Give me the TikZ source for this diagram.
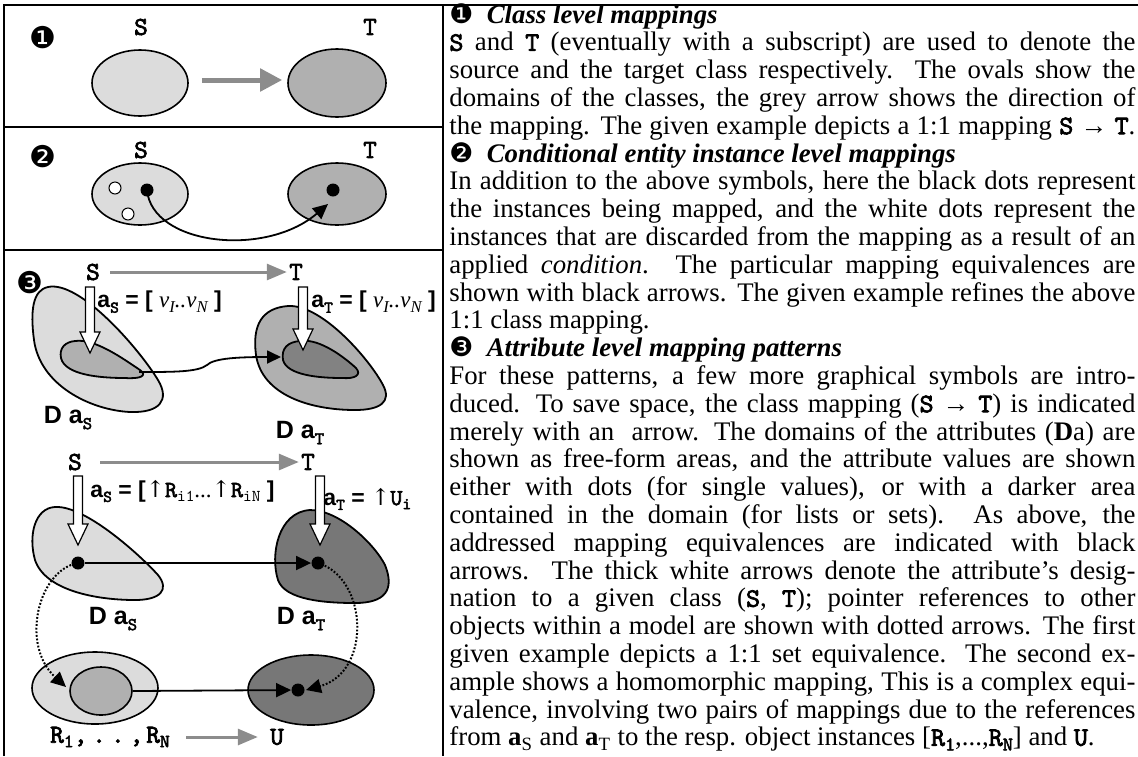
\documentclass[tikz,border=0pt]{standalone}
\usepackage{fontspec}
\usepackage{graphicx}
\setmainfont{Liberation Serif}
\newfontfamily\monob{lmmono10-regular.otf}[FakeBold=2.6]
\newfontfamily\monor{lmmono10-regular.otf}
\newfontfamily\sansf{Liberation Sans}
\newfontfamily\dvs{DejaVu Sans}
\newfontfamily\dvserif{DejaVu Serif}
\usetikzlibrary{arrows.meta,shapes.geometric}
\definecolor{lgray}{HTML}{DCDCDC}
\definecolor{mgray}{HTML}{B0B0B0}
\definecolor{dgray}{HTML}{828282}
\definecolor{xgray}{HTML}{777777}
\definecolor{agray}{HTML}{8C8C8C}
\newcommand\mb[1]{{\mdseries\monob #1}}
\newcommand\lowr[1]{\raisebox{-0.4ex}{\scalebox{0.72}{#1}}}
\newcommand\upar{{\dvserif\mdseries ↑}}
\newcommand\JL[1]{\makebox[343pt][s]{#1}}
\newcommand\TL[3]{\node[tline] (#1) at (449,{23+27.8*(#2-1)}) {#3};}
\newcommand\whitearrow[3]{\filldraw[fill=white,draw=black,line width=0.6pt,line join=miter]
  (#1-4.5,#2) -- (#1-4.5,#3-21) -- (#1-10,#3-21) -- (#1,#3) -- (#1+10,#3-21) -- (#1+4.5,#3-21) -- (#1+4.5,#2) -- cycle;}
\begin{document}
\begin{tikzpicture}[x=0.5pt,y=-0.5pt,
  frame/.style={line width=1pt},
  tline/.style={anchor=base west,inner sep=0pt,font=\fontsize{13.4}{14}\selectfont},
  lbl/.style={inner sep=0pt,font=\fontsize{13}{13}\mdseries\monob},
  num/.style={inner sep=0pt,font=\fontsize{15}{15}\dvs},
  albl/.style={inner sep=0pt,anchor=west,font=\fontsize{11.5}{12}\sansf\bfseries},
  dlbl/.style={inner sep=0pt,font=\fontsize{12.5}{13}\sansf\bfseries},
  ell/.style={ellipse,draw,line width=0.8pt,inner sep=0pt},
  bdot/.style={circle,fill=black,inner sep=0pt,minimum size=6.5pt},
  wdot/.style={circle,draw,line width=0.5pt,fill=white,inner sep=0pt,minimum size=6pt},
  garrow/.style={draw=agray,line width=1.5pt,-{Triangle[length=10pt,width=8pt]}},
  bigarrow/.style={draw=agray,line width=2.5pt,-{Triangle[length=11pt,width=11pt]}},
  blk/.style={line width=0.9pt,-{Triangle[length=7.5pt,width=7pt]}},
  dots/.style={line width=1pt,dash pattern=on 0.9pt off 0.9pt,-{Triangle[length=7.5pt,width=7pt]}},
  dom/.style={draw,line width=0.9pt}
]
\useasboundingbox (0,0) rectangle (1138,756);
% frame
\draw[frame] (4,756) -- (4,5) -- (1138,5);
\draw[frame] (443,5) -- (443,756);
\draw[frame] (4,127) -- (443,127);
\draw[frame] (4,250) -- (443,250);

% ---------- panel 1
\node[num] (n1) at (43,38) {❶};
\node[lbl] (s1) at (141,27) {S};
\node[lbl] (t1) at (370,27) {T};
\node[ell,fill=lgray,minimum width=48pt,minimum height=33pt] (es1) at (140,83) {};
\node[ell,fill=mgray,minimum width=49pt,minimum height=34pt] (et1) at (337,83) {};
\draw[bigarrow,shorten <=6.5pt,shorten >=2.5pt] ([yshift=1.5pt]es1.east) -- ([yshift=1.5pt]et1.west);

% ---------- panel 2
\node[num] (n2) at (43,157) {❷};
\node[lbl] (s2) at (141,150) {S};
\node[lbl] (t2) at (370,150) {T};
\node[ell,fill=lgray,minimum width=48pt,minimum height=31pt] (es2) at (140,194) {};
\node[ell,fill=mgray,minimum width=49pt,minimum height=31pt] (et2) at (337,194) {};
\node[wdot] (w1) at (115,188) {};
\node[wdot] (w2) at (128,214) {};
\node[bdot] (b1) at (147,190) {};
\node[bdot] (b2) at (333,190) {};
\coordinate (b2t) at (328,204);
\draw[blk] (b1.center) .. controls (152,245) and (265,258) .. (b2t);

% ---------- panel 3, pattern 1
\node[num] (n3) at (30,283) {❸};
\node[lbl] (s3) at (93,272) {S};
\node[lbl] (t3) at (296,272) {T};
\draw[garrow,shorten <=5pt,shorten >=1pt] (s3) -- (t3);
\draw[dom,fill=lgray] (48,287) .. controls (80,280) and (140,350) .. (158,380) .. controls (170,400) and (160,413) .. (130,412) .. controls (90,410) and (40,385) .. (34,340) .. controls (30,310) and (33,290) .. (48,287) -- cycle;
\draw[dom,fill=mgray] (75,341) .. controls (95,338) and (125,360) .. (140,370) .. controls (148,376) and (140,379) .. (125,378) .. controls (100,378) and (65,375) .. (61,358) .. controls (59,348) and (65,342) .. (75,341) -- cycle;
\draw[dom,fill=mgray] (288,306) .. controls (322,304) and (370,360) .. (383,385) .. controls (392,402) and (380,410) .. (355,410) .. controls (310,410) and (262,395) .. (256,355) .. controls (252,325) and (262,308) .. (288,306) -- cycle;
\draw[dom,fill=dgray] (300,341) .. controls (320,338) and (345,358) .. (356,368) .. controls (362,375) and (355,379) .. (342,378) .. controls (318,378) and (287,375) .. (283,360) .. controls (281,348) and (288,342) .. (300,341) -- cycle;
\coordinate (i1) at (139,372);
\coordinate (i2) at (281,357);
\draw[blk,-{Triangle[length=7pt,width=6.5pt]}] (i1) .. controls (175,372) and (198,372) .. (207,365) .. controls (214,358) and (240,357) .. (i2);
\whitearrow{90}{287}{353}
\whitearrow{303}{287}{350}
\node[albl] (la1) at (97,302) {a\lowr{\mb{S}} = [ {\rmfamily\mdseries\itshape v\lowr{I}..v\lowr{N}} ]};
\node[albl] (la2) at (311,302) {a\lowr{\mb{T}} = [ {\rmfamily\mdseries\itshape v\lowr{I}..v\lowr{N}} ]};
\node[dlbl] (d1) at (68,418) {D a\lowr{\mb{S}}};
\node[dlbl] (d2) at (300,433) {D a\lowr{\mb{T}}};

% ---------- panel 3, pattern 2
\node[lbl] (s4) at (75,462) {S};
\node[lbl] (t4) at (308,462) {T};
\draw[garrow,shorten <=9pt,shorten >=1pt] (s4) -- (t4);
\draw[dom,fill=lgray] (55,507) .. controls (85,505) and (140,555) .. (158,575) .. controls (170,590) and (160,600) .. (135,600) .. controls (95,600) and (45,590) .. (35,560) .. controls (28,535) and (35,508) .. (55,507) -- cycle;
\draw[dom,fill=xgray] (310,510) .. controls (340,510) and (375,545) .. (385,565) .. controls (395,590) and (385,603) .. (355,603) .. controls (325,603) and (285,600) .. (278,580) .. controls (270,555) and (278,512) .. (310,510) -- cycle;
\whitearrow{78}{476}{545}
\whitearrow{320}{476}{545}
\node[albl] (la3) at (90,491) {a\lowr{\mb{S}} = [\upar\mb{R}{\mdseries\monor\lowr{i1}}{\rmfamily\mdseries ...}\upar\mb{R}{\mdseries\monor\lowr{iN}} ]};
\node[albl] (la4) at (323,499) {a\lowr{\mb{T}} = \upar\mb{U\lowr{i}}};
\node[bdot] (p1) at (78,563) {};
\node[bdot] (p2) at (318,563) {};
\draw[blk] (p1) -- (p2);
\node[dlbl] (d3) at (113,619) {D a\lowr{\mb{S}}};
\node[dlbl] (d4) at (301,619) {D a\lowr{\mb{T}}};

% bottom objects
\node[ell,fill=lgray,minimum width=63pt,minimum height=36pt] (eo1) at (95,688) {};
\node[ell,fill=mgray,minimum width=31pt,minimum height=24pt] (eo2) at (101,691) {};
\node[ell,fill=xgray,minimum width=63pt,minimum height=35pt] (eo3) at (311,690) {};
\node[bdot] (p3) at (298,690) {};
\coordinate (q1) at (66,687);
\coordinate (q2) at (306,690);
\draw[dots] (p1.center) .. controls (38,570) and (20,645) .. (q1);
\draw[dots] (p2.center) .. controls (368,578) and (372,672) .. (q2);
\draw[blk] (eo2.east) -- (p3);

\node[lbl] (rr) at (110,737) {R\lowr{1},\hspace{2.5pt}.\hspace{2.5pt}.\hspace{2.5pt},\hspace{1.5pt}R\lowr{N}};
\node[lbl] (uu) at (277,737) {U};
\draw[garrow,shorten <=8pt,shorten >=6pt] (rr) -- (uu);

% ---------- text column
\TL{l1}{1}{{\dvs ❶}\enspace{\bfseries\itshape Class level mappings}}
\TL{l2}{2}{\JL{\mb{S} and \mb{T} (eventually with a subscript) are used to denote the}}
\TL{l3}{3}{\JL{source and the target class respectively. The ovals show the}}
\TL{l4}{4}{\JL{domains of the classes, the grey arrow shows the direction of}}
\TL{l5}{5}{\JL{the mapping. The given example depicts a 1:1 mapping \mb{S}~→~\mb{T}.}}
\TL{l6}{6}{{\dvs ❷}\enspace{\bfseries\itshape Conditional entity instance level mappings}}
\TL{l7}{7}{\JL{In addition to the above symbols, here the black dots represent}}
\TL{l8}{8}{\JL{the instances being mapped, and the white dots represent the}}
\TL{l9}{9}{\JL{instances that are discarded from the mapping as a result of an}}
\TL{l10}{10}{\JL{applied \textit{condition}. The particular mapping equivalences are}}
\TL{l11}{11}{\JL{shown with black arrows. The given example refines the above}}
\TL{l12}{12}{1:1 class mapping.}
\TL{l13}{13}{{\dvs ❸}\enspace{\bfseries\itshape Attribute level mapping patterns}}
\TL{l14}{14}{\JL{For these patterns, a few more graphical symbols are intro-}}
\TL{l15}{15}{\JL{duced. To save space, the class mapping (\mb{S}~→~\mb{T}) is indicated}}
\TL{l16}{16}{\JL{merely with an\ \ arrow. The domains of the attributes (\textbf{D}a) are}}
\TL{l17}{17}{\JL{shown as free-form areas, and the attribute values are shown}}
\TL{l18}{18}{\JL{either with dots (for single values), or with a darker area}}
\TL{l19}{19}{\JL{contained in the domain (for lists or sets). As above, the}}
\TL{l20}{20}{\JL{addressed mapping equivalences are indicated with black}}
\TL{l21}{21}{\JL{arrows. The thick white arrows denote the attribute’s desig-}}
\TL{l22}{22}{\JL{nation to a given class (\mb{S}, \mb{T}); pointer references to other}}
\TL{l23}{23}{\JL{objects within a model are shown with dotted arrows. The first}}
\TL{l24}{24}{\JL{given example depicts a 1:1 set equivalence. The second ex-}}
\TL{l25}{25}{\JL{ample shows a homomorphic mapping, This is a complex equi-}}
\TL{l26}{26}{\JL{valence, involving two pairs of mappings due to the references}}
\TL{l27}{27}{from \textbf{a}\textsubscript{S} and \textbf{a}\textsubscript{T} to the resp. object instances [\mb{R\lowr{1}},...,\mb{R\lowr{N}}] and \mb{U}.}
\end{tikzpicture}
\end{document}
